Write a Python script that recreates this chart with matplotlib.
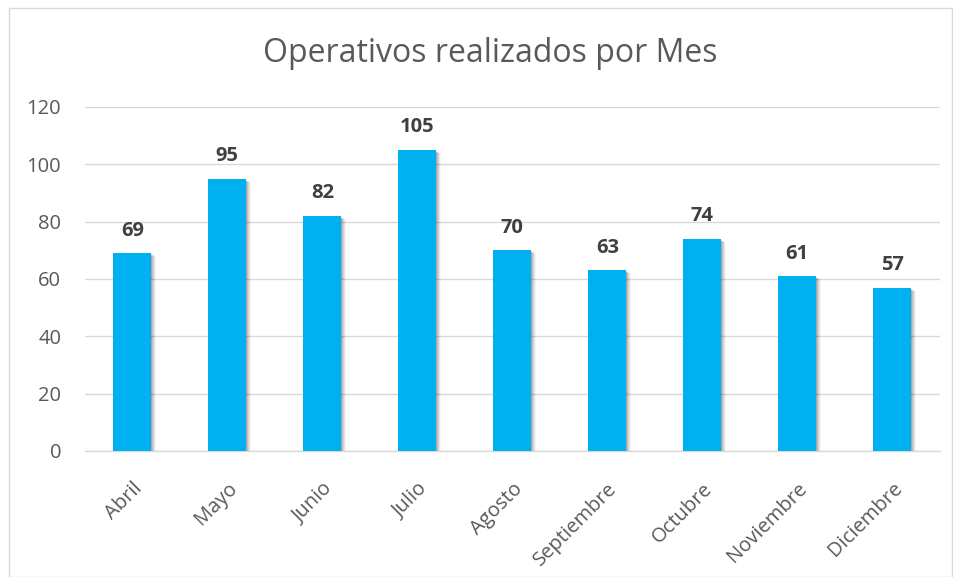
import matplotlib
matplotlib.use("Agg")
import matplotlib.pyplot as plt
import matplotlib.transforms as mtransforms
from matplotlib.patches import Rectangle

months = ["Abril", "Mayo", "Junio", "Julio", "Agosto", "Septiembre", "Octubre", "Noviembre", "Diciembre"]
values = [69, 95, 82, 105, 70, 63, 74, 61, 57]
yticks = [0, 20, 40, 60, 80, 100, 120]

plt.rcParams['font.family'] = ['Open Sans', 'DejaVu Sans']

fig = plt.figure(figsize=(9.54, 5.77), dpi=100)
ax = fig.add_axes([0.089, 0.2184, 0.896, 0.5962])

x = list(range(len(months)))
# shadows
for dx, dy, a in [(1, -1, 0.12), (2, -2, 0.10), (3, -2, 0.08), (4, -3, 0.06), (5, -3, 0.04)]:
    off = mtransforms.offset_copy(ax.transData, fig=fig, x=dx, y=dy, units='dots')
    ax.bar(x, values, width=0.4, color='black', alpha=a, transform=off, zorder=2, linewidth=0)
ax.bar(x, values, width=0.4, color='#00B0F0', zorder=3, linewidth=0)

for xi, v in zip(x, values):
    ax.annotate(str(v), (xi, v), xytext=(0, 9), textcoords='offset points',
                ha='center', va='bottom', fontsize=14.5, fontweight='bold', color='#404040')

ax.set_xlim(-0.5, len(months) - 0.5)
ax.set_ylim(0, 120)
ax.set_yticks(yticks)
ax.set_yticklabels([str(t) for t in yticks], fontsize=14.5, color='#595959')
ax.set_xticks(x)
ax.set_xticklabels(months, rotation=45, ha='right', va='top', rotation_mode='anchor',
                   fontsize=14.5, color='#595959')
ax.tick_params(axis='both', length=0)
ax.tick_params(axis='x', pad=20)
ax.tick_params(axis='y', pad=17)
ax.grid(axis='y', color='#D9D9D9', linewidth=1, zorder=0)
ax.set_axisbelow(True)
for s in ['top', 'right', 'left']:
    ax.spines[s].set_visible(False)
ax.spines['bottom'].set_color('#D9D9D9')
ax.spines['bottom'].set_linewidth(1)

fig.text(490 / 954, 1 - 53 / 577, "Operativos realizados por Mes", ha='center', va='center',
         fontsize=23, color='#595959')

fig.patches.append(Rectangle((9 / 954, 0), 943 / 954, 1 - 8 / 577, transform=fig.transFigure,
                             fill=False, edgecolor='#D9D9D9', linewidth=1))

fig.savefig("out.png", dpi=100)
